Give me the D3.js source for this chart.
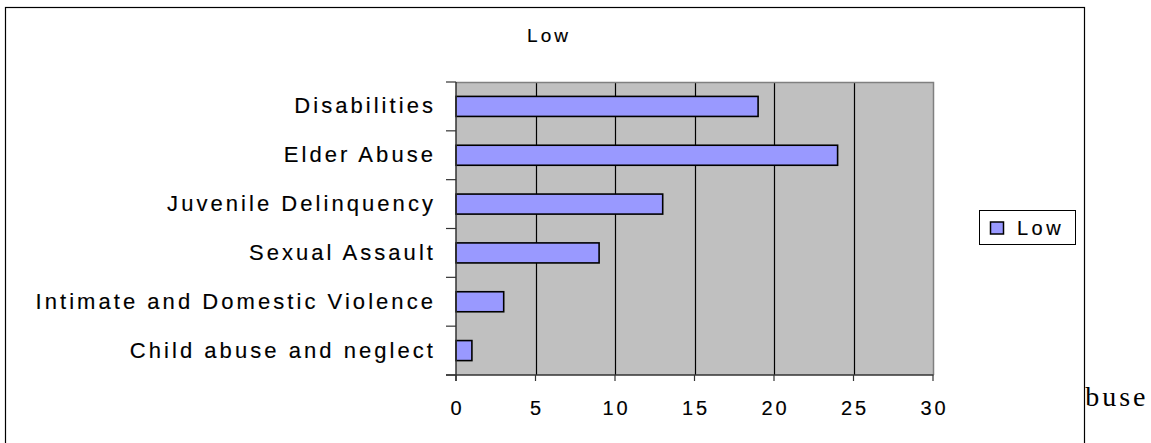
<!DOCTYPE html>
<html>
<head>
<meta charset="utf-8">
<script src="https://cdn.jsdelivr.net/npm/d3@7"></script>
<style>
  html, body { margin: 0; padding: 0; background: #fff; }
  svg { display: block; }
  text.sans { font-family: "Liberation Sans", Arial, sans-serif; fill: #000; stroke: #000; stroke-width: 0.15px; }
</style>
</head>
<body>
<svg id="chart" width="1151" height="443"></svg>
<script>
// Categories, top to bottom
const categories = [
  "Disabilities",
  "Elder Abuse",
  "Juvenile Delinquency",
  "Sexual Assault",
  "Intimate and Domestic Violence",
  "Child abuse and neglect"
];
// Series "Low"
const seriesName = "Low";
const lowValues = [19, 24, 13, 9, 3, 1];
// X axis ticks
const xTicks = [0, 5, 10, 15, 20, 25, 30];

const svg = d3.select("#chart");

// Text of the surrounding document, partly hidden behind the chart frame
svg.append("text")
  .attr("x", 1062)
  .attr("y", 406)
  .style("font-family", "'Liberation Serif', 'Times New Roman', serif")
  .style("font-size", "28px")
  .style("letter-spacing", "3px")
  .text("Abuse");

// Chart frame (open at the bottom edge of the page)
svg.append("rect")
  .attr("x", 5.5).attr("y", 7.5)
  .attr("width", 1079).attr("height", 460)
  .attr("fill", "#fff")
  .attr("stroke", "#000")
  .attr("stroke-width", 1.2);

const plot = { left: 456, right: 933, top: 82, bottom: 375 };

const x = d3.scaleLinear()
  .domain([0, 30])
  .range([plot.left, plot.right]);

const y = d3.scaleBand()
  .domain(categories)
  .range([plot.top, plot.bottom])
  .paddingInner(0.59)
  .paddingOuter(0.295);

// Plot area background
svg.append("rect")
  .attr("x", plot.left).attr("y", plot.top)
  .attr("width", plot.right - plot.left)
  .attr("height", plot.bottom - plot.top)
  .attr("fill", "#c0c0c0");

// Vertical gridlines
svg.append("g")
  .selectAll("line")
  .data(xTicks.filter(t => t > 0 && t < 30))
  .join("line")
  .attr("x1", d => Math.round(x(d)) + 0.5)
  .attr("x2", d => Math.round(x(d)) + 0.5)
  .attr("y1", plot.top)
  .attr("y2", plot.bottom)
  .attr("stroke", "#000")
  .attr("stroke-width", 1.2);

// Plot area top and right border
svg.append("path")
  .attr("d", `M${plot.left},${plot.top + 0.5}H${plot.right + 0.5}V${plot.bottom}`)
  .attr("fill", "none")
  .attr("stroke", "#808080")
  .attr("stroke-width", 1.5);

// Bars
svg.append("g")
  .selectAll("rect")
  .data(categories.map((c, i) => ({ c, v: lowValues[i] })))
  .join("rect")
  .attr("x", x(0))
  .attr("y", d => y(d.c))
  .attr("width", d => x(d.v) - x(0))
  .attr("height", y.bandwidth())
  .attr("fill", "#9999ff")
  .attr("stroke", "#000")
  .attr("stroke-width", 1.6);

// Y axis: line, ticks at band boundaries, category labels
const yAxis = svg.append("g");
yAxis.append("line")
  .attr("x1", plot.left).attr("x2", plot.left)
  .attr("y1", plot.top).attr("y2", plot.bottom + 6)
  .attr("stroke", "#333").attr("stroke-width", 1.5);
const boundaries = d3.range(categories.length + 1).map(i => plot.top + i * y.step());
yAxis.selectAll("line.tick")
  .data(boundaries)
  .join("line")
  .attr("class", "tick")
  .attr("x1", plot.left - 10).attr("x2", plot.left)
  .attr("y1", d => d).attr("y2", d => d)
  .attr("stroke", "#333").attr("stroke-width", 1.2);
yAxis.selectAll("text")
  .data(categories)
  .join("text")
  .attr("class", "sans")
  .attr("x", 436)
  .attr("y", d => y(d) + y.bandwidth() / 2 + 7)
  .attr("text-anchor", "end")
  .style("font-size", "22px")
  .style("letter-spacing", "3.05px")
  .text(d => d);

// X axis: line, ticks, labels
const xAxis = svg.append("g");
xAxis.append("line")
  .attr("x1", plot.left - 10).attr("x2", plot.right + 0.5)
  .attr("y1", plot.bottom).attr("y2", plot.bottom)
  .attr("stroke", "#333").attr("stroke-width", 1.5);
xAxis.selectAll("line.tick")
  .data(xTicks)
  .join("line")
  .attr("class", "tick")
  .attr("x1", d => x(d)).attr("x2", d => x(d))
  .attr("y1", plot.bottom).attr("y2", plot.bottom + 6)
  .attr("stroke", "#333").attr("stroke-width", 1.2);
xAxis.selectAll("text")
  .data(xTicks)
  .join("text")
  .attr("class", "sans")
  .attr("x", d => x(d) + 1.5)
  .attr("y", 415)
  .attr("text-anchor", "middle")
  .style("font-size", "20px")
  .style("letter-spacing", "3px")
  .text(d => d);

// Title
svg.append("text")
  .attr("class", "sans")
  .attr("x", 549)
  .attr("y", 42)
  .attr("text-anchor", "middle")
  .style("font-size", "19px")
  .style("letter-spacing", "3px")
  .text(seriesName);

// Legend
const legend = svg.append("g");
legend.append("rect")
  .attr("x", 979.5).attr("y", 210.5)
  .attr("width", 96).attr("height", 34)
  .attr("fill", "#fff")
  .attr("stroke", "#000").attr("stroke-width", 1);
legend.append("rect")
  .attr("x", 990.5).attr("y", 222)
  .attr("width", 13).attr("height", 12)
  .attr("fill", "#9999ff")
  .attr("stroke", "#000").attr("stroke-width", 1.5);
legend.append("text")
  .attr("class", "sans")
  .attr("x", 1017)
  .attr("y", 235)
  .style("font-size", "20px")
  .style("letter-spacing", "3.5px")
  .text(seriesName);
</script>
</body>
</html>
